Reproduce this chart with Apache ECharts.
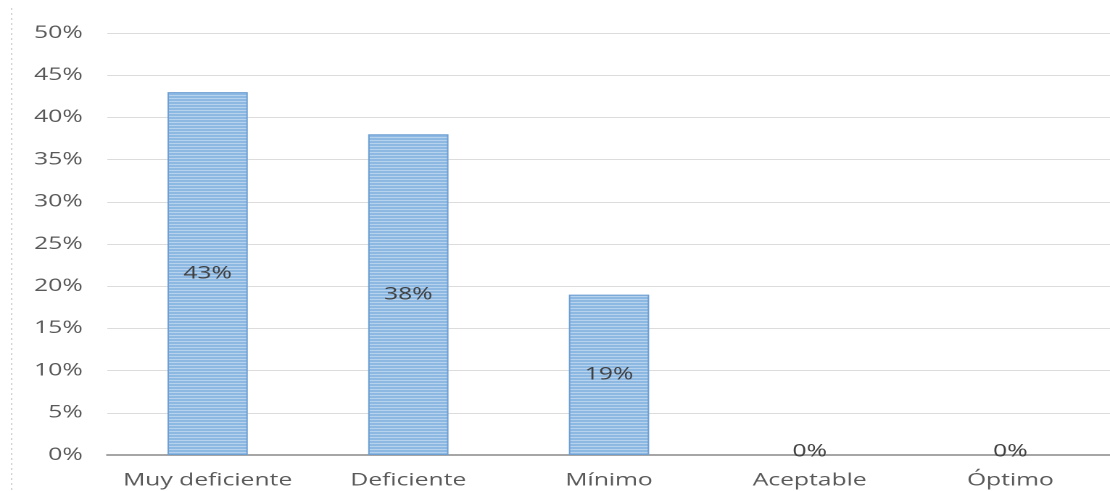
<!DOCTYPE html>
<html>
<head>
<meta charset="utf-8">
<script src="https://cdn.jsdelivr.net/npm/echarts@6/dist/echarts.min.js"></script>
<style>
  html, body { margin: 0; padding: 0; background: #fff; overflow: hidden; }
  #wrap { width: 1110px; height: 491px; overflow: hidden; }
  /* the chart is drawn narrow and widened, giving the broad lettering */
  #chart { width: 766px; height: 491px; transform: scaleX(1.45); transform-origin: 0 0; }
</style>
</head>
<body>
<div id="wrap"><div id="chart"></div></div>
<script>
// Niveles de la escala y porcentaje obtenido en cada uno
const categories = ['Muy deficiente', 'Deficiente', 'Mínimo', 'Aceptable', 'Óptimo'];
const percentages = [43, 38, 19, 0, 0];
const yTicks = [0, 5, 10, 15, 20, 25, 30, 35, 40, 45, 50];

// Relleno rayado horizontal de las barras
function stripePattern() {
  const c = document.createElement('canvas');
  c.width = 4; c.height = 3;
  const ctx = c.getContext('2d');
  ctx.fillStyle = '#84b3e0';
  ctx.fillRect(0, 0, 4, 3);
  ctx.fillStyle = '#c8ddf2';
  ctx.fillRect(0, 2, 4, 1);
  return c;
}

const chart = echarts.init(document.getElementById('chart'), null, { renderer: 'canvas', devicePixelRatio: 2 });
const font = '"Open Sans", "Noto Sans", sans-serif';

// empty bars carry their label on the axis line and no outline
const barData = percentages.map(v =>
  v === 0
    ? { value: v, itemStyle: { borderWidth: 0 }, label: { position: 'top', distance: -5 } }
    : v
);

chart.setOption({
  animation: false,
  backgroundColor: '#ffffff',
  grid: { left: 74, right: 0, top: 33, bottom: 36, containLabel: false },
  xAxis: {
    type: 'category',
    data: categories,
    axisLine: { lineStyle: { color: '#a6a6a6', width: 2 } },
    axisTick: { show: false },
    axisLabel: { interval: 0, hideOverlap: false, color: '#595959', fontSize: 17, fontFamily: font, margin: 17 }
  },
  yAxis: {
    type: 'value',
    min: yTicks[0],
    max: yTicks[yTicks.length - 1],
    interval: yTicks[1] - yTicks[0],
    axisLine: { show: false },
    axisTick: { show: false },
    axisLabel: { color: '#595959', fontSize: 17, fontFamily: font, margin: 17, formatter: v => v + '%' },
    splitLine: { lineStyle: { color: '#dcdcdc', width: 1 } }
  },
  graphic: [{
    type: 'line',
    shape: { x1: 8, y1: 8, x2: 8, y2: 491 },
    style: { stroke: '#d4d4d4', lineWidth: 1, lineDash: [2, 3] }
  }],
  series: [{
    type: 'bar',
    data: barData,
    barWidth: '40%',
    itemStyle: {
      color: { image: stripePattern(), repeat: 'repeat' },
      borderColor: '#6d9fd3',
      borderWidth: 1
    },
    label: {
      show: true,
      position: 'inside',
      color: '#404040',
      fontSize: 17,
      fontFamily: font,
      formatter: p => p.value + '%'
    }
  }]
});
</script>
</body>
</html>
